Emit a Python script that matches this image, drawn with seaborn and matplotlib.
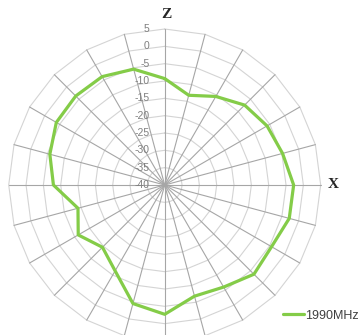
import numpy as np
import pandas as pd
import matplotlib
matplotlib.use("Agg")
import matplotlib.pyplot as plt
from matplotlib.transforms import offset_copy
import seaborn as sns

# radiation pattern, 1990 MHz, dB, clockwise from Z (top)
angles_deg = list(range(0, 360, 15))
gain_1990 = [-9.3, -13.2, -10.5, -7.4, -5.9, -4.8, -2.8, -2.8,
             -4.4, -3.6, -6.0, -6.8, -2.7, -4.6, -11.4, -14.6,
             -11.2, -14.1, -7.9, -5.7, -3.9, -3.7, -3.9, -5.4]
r_ticks = [5, 0, -5, -10, -15, -20, -25, -30, -35, -40]
series_name = "1990MHz"

sns.set_style("white")
plt.rcParams["font.family"] = ["Liberation Sans", "DejaVu Sans"]

theta = np.deg2rad(angles_deg)
theta_closed = np.append(theta, theta[0] + 2 * np.pi)
df = pd.DataFrame({"theta": theta_closed,
                   "gain": gain_1990 + gain_1990[:1]})

fig = plt.figure(figsize=(3.58, 3.35), dpi=100)
ax = fig.add_axes([0.0243, -0.0179, 0.8715, 0.9313], projection="polar")
ax.set_theta_zero_location("N")
ax.set_theta_direction(-1)
ax.set_ylim(min(r_ticks), max(r_ticks))
ax.grid(False)
ax.set_xticks([])
ax.set_yticks([])
ax.spines["polar"].set_visible(False)
ax.patch.set_alpha(0)

# polygon rings and spokes like an Excel radar chart
for lvl in r_ticks[:-1]:
    ax.plot(theta_closed, [lvl] * len(theta_closed), color="#d4d4d4",
            lw=0.8, clip_on=False, zorder=1)
for t in theta:
    ax.plot([t, t], [min(r_ticks), max(r_ticks)], color="#a6a6a6",
            lw=0.8, clip_on=False, zorder=1)

sns.lineplot(data=df, x="theta", y="gain", sort=False, estimator=None,
             color="#84cc48", lw=2.3, ax=ax, label=series_name,
             zorder=3, clip_on=False)
ax.set_xlabel("")
ax.set_ylabel("")

lab_tr = offset_copy(ax.transData, fig=fig, x=-15, y=0, units="dots")
for v in r_ticks:
    ax.text(0, v, str(v), transform=lab_tr, ha="right", va="center",
            fontsize=7.5, color="#7f7f7f", zorder=2)

fig.text(166 / 358, 1 - 14.7 / 335, "Z", ha="center", va="center",
         family="Liberation Serif", weight="bold", fontsize=11)
fig.text(333.5 / 358, 1 - 184 / 335, "X", ha="center", va="center",
         family="Liberation Serif", weight="bold", fontsize=11)

ax.legend(loc="center left", bbox_to_anchor=(283 / 358, (335 - 315.7) / 335),
          bbox_transform=fig.transFigure, frameon=False, fontsize=9,
          handlelength=1.7, handletextpad=0.1, borderpad=0, borderaxespad=0,
          labelcolor="#404040")

fig.savefig("out.png", dpi=100)
